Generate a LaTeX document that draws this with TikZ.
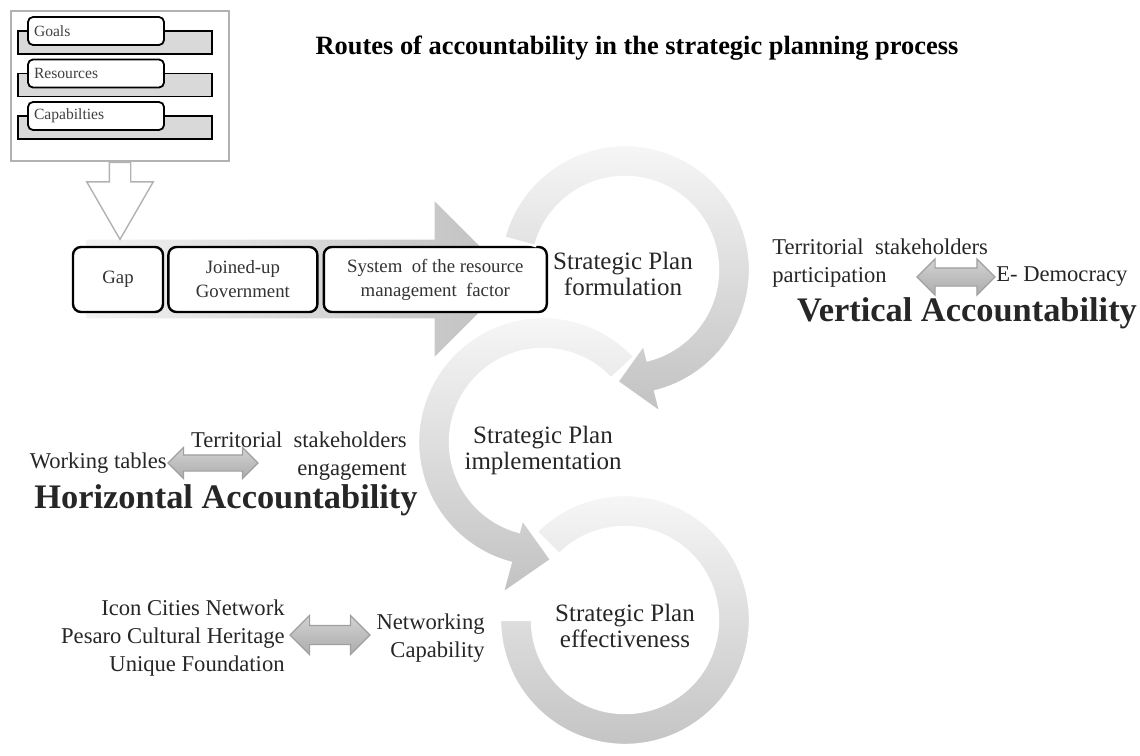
\documentclass[tikz,border=0pt]{standalone}
\usepackage{fontspec}
\setmainfont{Liberation Serif}
\usetikzlibrary{arrows.meta,positioning,shapes.arrows,calc}

\begin{document}
\begin{tikzpicture}[
    x=0.5pt, y=0.5pt,
    outerbox/.style={rectangle, draw=gray!60, line width=0.7pt, fill=white, minimum width=109pt, minimum height=75pt},
    itembar/.style={rectangle, draw, line width=0.9pt, fill=gray!30, minimum width=97pt, minimum height=11.5pt},
    itembox/.style={rectangle, draw, line width=0.9pt, rounded corners=2.5pt, fill=white, minimum height=14pt, inner sep=3pt, text width=62pt, align=left, font=\fontsize{7.8}{9}\selectfont, text=black!75},
    planbox/.style={rectangle, draw, line width=1.2pt, rounded corners=4pt, fill=white, minimum height=32.5pt, align=center, font=\fontsize{9.4}{12}\selectfont, text=black!80},
    flowarrow/.style={single arrow, inner xsep=0pt, inner ysep=19.5pt, minimum height=213pt, minimum width=77.5pt, single arrow head extend=19.25pt, left color=gray!10, right color=gray!50},
    downarrow/.style={single arrow, rotate=-90, inner xsep=0pt, inner ysep=5pt, draw=gray!60, line width=0.7pt, fill=white, minimum height=38.5pt, minimum width=32.5pt, single arrow head extend=11.25pt, single arrow tip angle=60},
    dblarrow/.style={double arrow, inner xsep=0pt, draw=gray!75, line width=0.6pt, top color=gray!35, bottom color=gray!65},
    cyclearc/.style={top color=gray!5, bottom color=gray!48, draw=white, line width=1.2pt},
    plantext/.style={font=\fontsize{12.5}{13}\selectfont, align=center, text=black!85},
    sidetext/.style={font=\fontsize{11.3}{14}\selectfont, text=black!85, inner sep=0pt},
    acctitle/.style={font=\bfseries\fontsize{17.2}{18}\selectfont, text=black!85, inner sep=0pt},
    maintitle/.style={font=\bfseries\fontsize{13.2}{15}\selectfont, inner sep=0pt}
]
\useasboundingbox (0,0) rectangle (1140,-755);

% Title
\node[maintitle] (title) at (637,-48) {Routes of accountability in the strategic planning process};

% Main flow arrow behind the factor boxes
\node[flowarrow, anchor=tail] (flow) at (86,-279) {};

% Inputs box
\node[outerbox] (inputs) at (120,-86) {};
\foreach \item [count=\i] in {Goals, Resources, Capabilties} {
    \node[itembar] (bar\i) at (115,{-42.5*\i}) {};
    \node[itembox] (item\i) at (96,{-42.5*\i+11.5}) {\item};
}
\node[downarrow, anchor=tail] (down) at (inputs.south) {};

% Factor boxes
\node[planbox, minimum width=45pt] (gap) at (118,-279.5) {Gap};
\node[planbox, minimum width=74.5pt, right=1.5pt of gap] (joined) {Joined-up\\Government};
\node[planbox, minimum width=111.5pt, right=2pt of joined] (resfactor) {System\ \ of the resource\\management\ \ factor};

% Cycle of the strategic plan
\coordinate (c1) at (625,-270);
\coordinate (c2) at (543,-442);
\coordinate (c3) at (625,-620);

\begin{scope}[shift={(c3)}]
    \path[cyclearc] (135:125) arc[start angle=135, end angle=-180, radius=125]
        -- (180:93) arc[start angle=-180, end angle=135, radius=93] -- cycle;
\end{scope}
\begin{scope}[shift={(c2)}]
    \path[cyclearc] (43:125) arc[start angle=43, end angle=255, radius=125]
        -- (255:157) -- (274:118) -- (255:80) -- (255:93)
        arc[start angle=255, end angle=43, radius=93] -- cycle;
\end{scope}
\begin{scope}[shift={(c1)}]
    \path[cyclearc] (165:125) arc[start angle=165, end angle=-76, radius=125]
        -- (-76:147) -- (-94:112) -- (-76:77) -- (-76:93)
        arc[start angle=-76, end angle=165, radius=93] -- cycle;
\end{scope}

\node[plantext] (form) at ($(c1)+(-2,-4)$) {Strategic Plan\\formulation};
\node[plantext] (impl) at ($(c2)+(0,-8)$) {Strategic Plan\\implementation};
\node[plantext] (eff) at ($(c3)+(0,-6)$) {Strategic Plan\\effectiveness};

% Vertical accountability
\node[sidetext, align=left, anchor=west] (vert_part) at (772,-263.5) {Territorial\ \ stakeholders\\participation};
\node[dblarrow, inner ysep=4.25pt, minimum height=39pt, minimum width=17.5pt, double arrow head extend=4.5pt] (vert_arrow) at (956,-277) {};
\node[sidetext, anchor=west] (vert_demo) at (vert_arrow.east) {E- Democracy};
\node[acctitle] (vert_title) at (967,-313) {Vertical Accountability};

% Horizontal accountability
\node[dblarrow, inner ysep=3.75pt, minimum height=45pt, minimum width=15pt, double arrow head extend=3.75pt] (hor_arrow) at (213,-463) {};
\node[sidetext, align=right, anchor=east] (hor_eng) at (407,-456) {Territorial\ \ stakeholders\\engagement};
\node[sidetext, anchor=east] (hor_work) at (hor_arrow.west) {Working tables};
\node[acctitle] (hor_title) at (226,-500) {Horizontal Accountability};

% Networking
\node[sidetext, align=right, anchor=east] (net_list) at (285,-638) {Icon Cities Network\\Pesaro Cultural Heritage\\Unique Foundation};
\node[dblarrow, inner ysep=4.5pt, minimum height=40pt, minimum width=19pt, double arrow head extend=5pt] (net_arrow) at (330,-635) {};
\node[sidetext, align=right, anchor=east] (net_cap) at (485,-638) {Networking\\Capability};

\end{tikzpicture}
\end{document}
